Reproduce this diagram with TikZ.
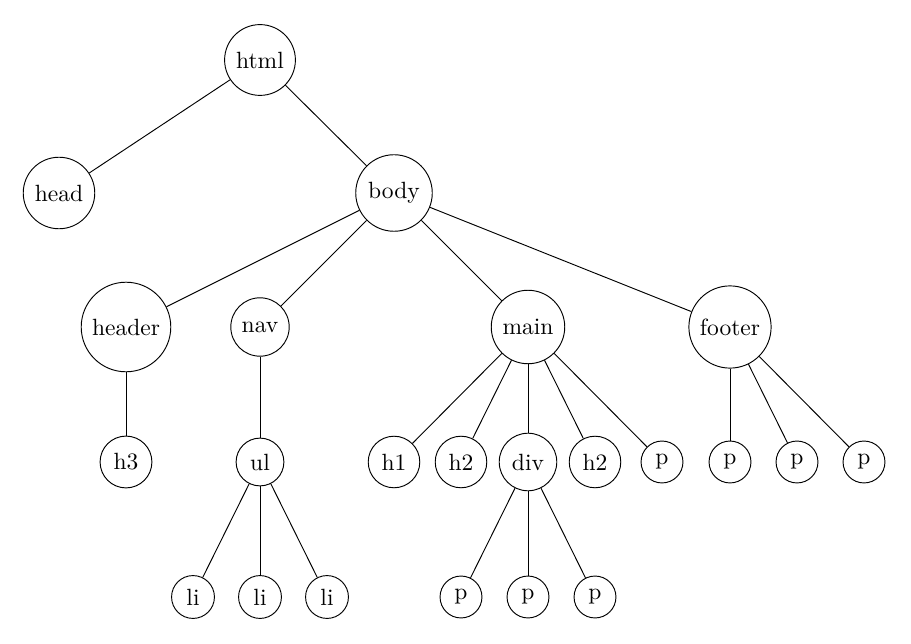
\documentclass[tikz,border=0pt]{standalone}
\begin{document}
\begin{tikzpicture}[x=0.4255pt,y=-0.4255pt,
  tn/.style={circle,draw}]
\useasboundingbox (0,0) rectangle (911,644);
\node[tn] (html) at (260,60) {html};
\node[tn] (head) at (59,193) {head};
\node[tn] (body) at (394,193) {body};
\node[tn] (header) at (126,327) {header};
\node[tn] (nav) at (260,327) {nav};
\node[tn] (main) at (528,327) {main};
\node[tn] (footer) at (730,327) {footer};
\node[tn] (h3) at (126,462) {h3};
\node[tn] (ul) at (260,462) {ul};
\node[tn] (h1) at (394,462) {h1};
\node[tn] (h2a) at (461,462) {h2};
\node[tn] (div) at (528,462) {div};
\node[tn] (h2b) at (595,462) {h2};
\node[tn] (pm) at (662,462) {p};
\node[tn] (pf1) at (730,462) {p};
\node[tn] (pf2) at (797,462) {p};
\node[tn] (pf3) at (864,462) {p};
\node[tn] (li1) at (193,597) {li};
\node[tn] (li2) at (260,597) {li};
\node[tn] (li3) at (327,597) {li};
\node[tn] (pd1) at (461,597) {p};
\node[tn] (pd2) at (528,597) {p};
\node[tn] (pd3) at (595,597) {p};
\draw (html) -- (head);
\draw (html) -- (body);
\draw (body) -- (header);
\draw (body) -- (nav);
\draw (body) -- (main);
\draw (body) -- (footer);
\draw (header) -- (h3);
\draw (nav) -- (ul);
\draw (main) -- (h1);
\draw (main) -- (h2a);
\draw (main) -- (div);
\draw (main) -- (h2b);
\draw (main) -- (pm);
\draw (footer) -- (pf1);
\draw (footer) -- (pf2);
\draw (footer) -- (pf3);
\draw (ul) -- (li1);
\draw (ul) -- (li2);
\draw (ul) -- (li3);
\draw (div) -- (pd1);
\draw (div) -- (pd2);
\draw (div) -- (pd3);
\end{tikzpicture}
\end{document}
